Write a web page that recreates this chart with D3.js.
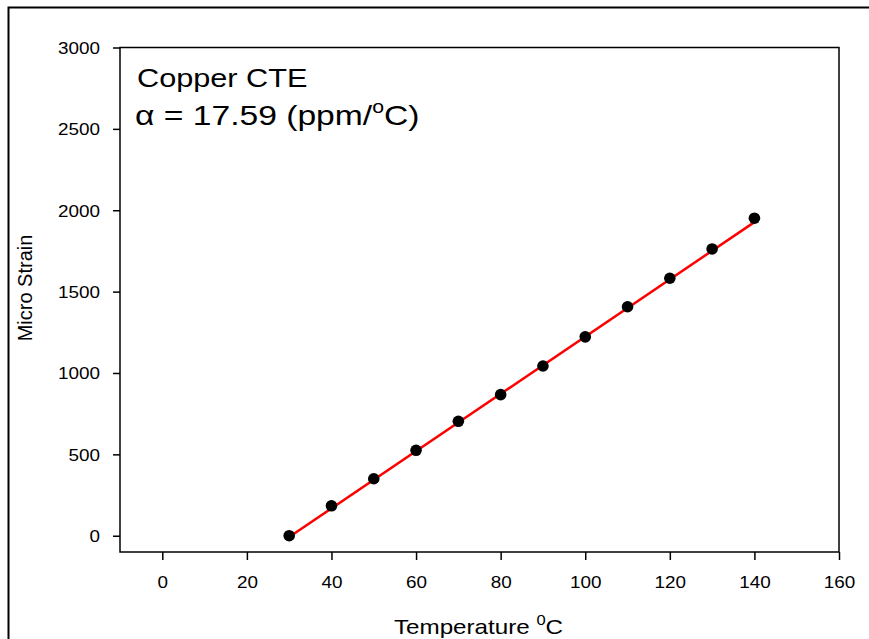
<!DOCTYPE html>
<html>
<head>
<meta charset="utf-8">
<script src="https://cdn.jsdelivr.net/npm/d3@7"></script>
<style>
  html, body { margin: 0; padding: 0; background: #fff; }
  svg { display: block; font-family: "Liberation Sans", Arial, sans-serif; }
</style>
</head>
<body>
<svg id="chart" width="869" height="639"></svg>
<script>
// ---- data ----
const temperatures = [30, 40, 50, 60, 70, 80, 90, 100, 110, 120, 130, 140];
const microStrain = [0, 184, 350, 525, 703, 867, 1043, 1222, 1407, 1582, 1762, 1951];
const fitX = [30, 140];
const fitY = [-8, 1927];
const xTicks = [0, 20, 40, 60, 80, 100, 120, 140, 160];
const yTicks = [0, 500, 1000, 1500, 2000, 2500, 3000];
const titleText = "Copper CTE";
const alphaValue = "17.59";

const svg = d3.select("#chart");
const SX = 1.18; // horizontal text stretch of the original picture

// outer border
svg.append("rect")
  .attr("x", 8.5).attr("y", 7.5)
  .attr("width", 900).attr("height", 700)
  .attr("fill", "none").attr("stroke", "#000").attr("stroke-width", 2);

const pLeft = 120, pRight = 839, pTop = 47.5, pBottom = 552;
const x = d3.scaleLinear().domain([-10, 160]).range([pLeft, pRight]);
const y = d3.scaleLinear().domain([-100, 3000]).range([pBottom, pTop]);

// plot frame
svg.append("rect")
  .attr("x", pLeft).attr("y", pTop)
  .attr("width", pRight - pLeft).attr("height", pBottom - pTop)
  .attr("fill", "none").attr("stroke", "#000").attr("stroke-width", 1.5);

function stretchText(sel) {
  sel.each(function() {
    const t = d3.select(this);
    const tx = +t.attr("x") || 0, ty = +t.attr("y") || 0;
    t.attr("x", null).attr("y", null)
     .attr("transform", `translate(${tx},${ty}) scale(${SX},1)`);
  });
}

// x axis
const xAxis = d3.axisBottom(x).tickValues(xTicks).tickFormat(d3.format("d"))
  .tickSize(8).tickPadding(0).tickSizeOuter(0);
const gx = svg.append("g").attr("transform", `translate(0,${pBottom})`).call(xAxis);
gx.select(".domain").remove();
gx.selectAll(".tick line").attr("stroke", "#000").attr("stroke-width", 1.5);
gx.selectAll(".tick text")
  .attr("font-size", 16).attr("fill", "#000")
  .attr("font-family", "Liberation Sans, Arial, sans-serif")
  .attr("dy", null).attr("y", 36).attr("x", 0)
  .call(stretchText);

// y axis
const yAxis = d3.axisLeft(y).tickValues(yTicks).tickFormat(d3.format("d"))
  .tickSize(7).tickPadding(0).tickSizeOuter(0);
const gy = svg.append("g").attr("transform", `translate(${pLeft},0)`).call(yAxis);
gy.select(".domain").remove();
gy.selectAll(".tick line").attr("stroke", "#000").attr("stroke-width", 1.5);
gy.selectAll(".tick text")
  .attr("font-size", 16).attr("fill", "#000")
  .attr("font-family", "Liberation Sans, Arial, sans-serif")
  .attr("dy", null).attr("x", -20).attr("y", 6)
  .call(stretchText);

// fit line
const line = d3.line().x(d => x(d[0])).y(d => y(d[1]));
svg.append("path")
  .datum(fitX.map((v, i) => [v, fitY[i]]))
  .attr("d", line)
  .attr("fill", "none").attr("stroke", "#ff0000").attr("stroke-width", 2.5);

// points
svg.append("g").selectAll("circle")
  .data(temperatures.map((t, i) => [t, microStrain[i]]))
  .join("circle")
  .attr("cx", d => x(d[0])).attr("cy", d => y(d[1]))
  .attr("r", 5.8).attr("fill", "#000");

// annotation
const a1 = svg.append("text").attr("x", 137).attr("y", 87)
  .attr("font-size", 26).attr("fill", "#000").text(titleText);
stretchText(a1);
const a2 = svg.append("text").attr("x", 135).attr("y", 125)
  .attr("font-size", 28.5).attr("fill", "#000");
a2.append("tspan").text("\u03b1 = " + alphaValue + " (ppm/");
a2.append("tspan").attr("font-size", 18).attr("dy", -12).text("o");
a2.append("tspan").attr("dy", 12).text("C)");
stretchText(a2);

// x title
const xt = svg.append("text").attr("x", 394).attr("y", 634)
  .attr("font-size", 20.5).attr("fill", "#000");
xt.append("tspan").text("Temperature ");
xt.append("tspan").attr("font-size", 14).attr("dy", -9).text("0");
xt.append("tspan").attr("dy", 9).text("C");
stretchText(xt);

// y title
svg.append("text")
  .attr("transform", "translate(32,288) rotate(-90)")
  .attr("text-anchor", "middle")
  .attr("font-size", 20).attr("fill", "#000")
  .text("Micro Strain");
</script>
</body>
</html>
